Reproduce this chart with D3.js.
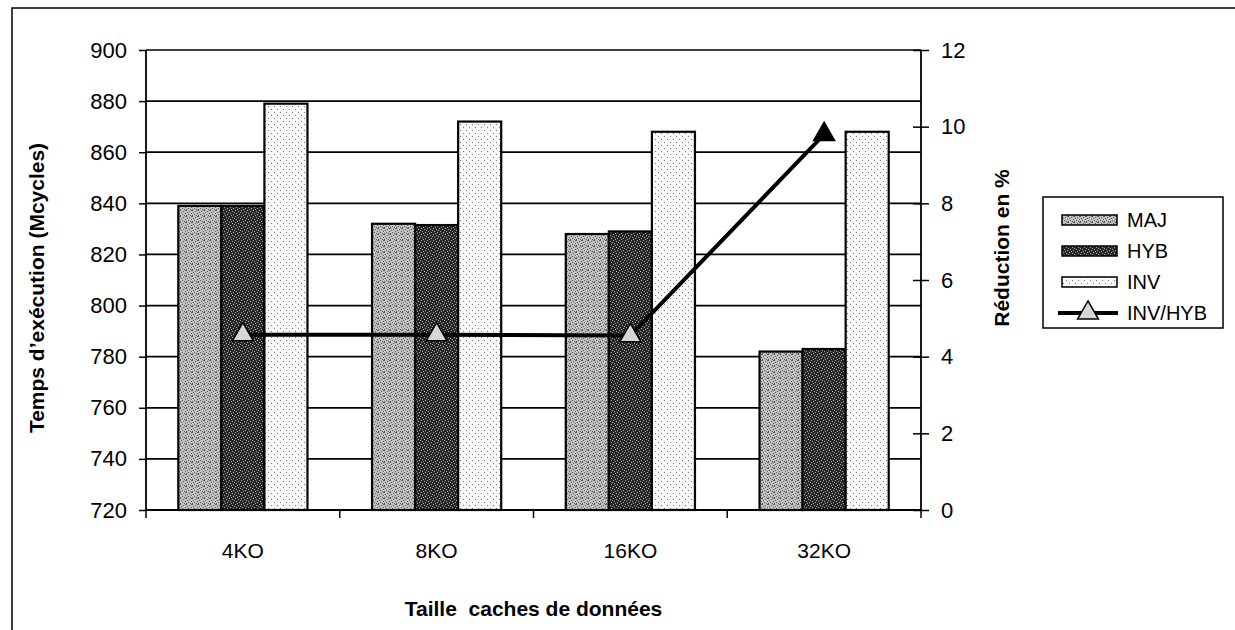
<!DOCTYPE html>
<html>
<head>
<meta charset="utf-8">
<script src="https://cdn.jsdelivr.net/npm/d3@7"></script>
<style>
  html, body { margin: 0; padding: 0; background: #fff; }
  svg { display: block; font-family: "Liberation Sans", Arial, Helvetica, sans-serif; }
</style>
</head>
<body>
<svg id="chart" width="1235" height="630"></svg>
<script>
// Execution time (Mcycles) per data-cache size, three write policies,
// plus the INV/HYB reduction in percent on the secondary axis.
const categories = ["4KO", "8KO", "16KO", "32KO"];
const seriesNames = ["MAJ", "HYB", "INV"];
const majValues = [839, 832, 828, 782];
const hybValues = [839, 831.5, 829, 783];
const invValues = [879, 872, 868, 868];
const reductionValues = [4.57, 4.57, 4.55, 9.8];
const leftTicks = [720, 740, 760, 780, 800, 820, 840, 860, 880, 900];
const rightTicks = [0, 2, 4, 6, 8, 10, 12];
const lineName = "INV/HYB";

const svg = d3.select("#chart");
const W = 1235, H = 630;
const plot = { left: 146, right: 921, top: 50, bottom: 510 };

// halftone-style fills for the three bar series
const defs = svg.append("defs");
function halftone(id, base, ink, dots, size) {
  const p = defs.append("pattern").attr("id", id)
    .attr("patternUnits", "userSpaceOnUse").attr("width", size).attr("height", size);
  p.append("rect").attr("width", size).attr("height", size).attr("fill", base);
  dots.forEach(([dx, dy]) => p.append("rect").attr("x", dx).attr("y", dy)
    .attr("width", 1).attr("height", 1).attr("fill", ink));
}
halftone("fillMAJ", "#c0c0c0", "#5e5e5e",
  [[0,0],[3,1],[1,2],[5,3],[2,4],[4,5],[0,5],[5,0]], 6);
halftone("fillHYB", "#262626", "#a8a8a8",
  [[1,0],[4,1],[2,3],[5,4],[0,2],[3,5]], 6);
halftone("fillINV", "#f7f7f7", "#777",
  [[1,1],[4,4]], 6);

const fills = { MAJ: "url(#fillMAJ)", HYB: "url(#fillHYB)", INV: "url(#fillINV)" };
const valuesBySeries = { MAJ: majValues, HYB: hybValues, INV: invValues };

// scales
const x0 = d3.scaleBand().domain(categories).range([plot.left, plot.right]).paddingInner(0).paddingOuter(0);
const x1 = d3.scaleBand().domain(seriesNames).range([0, x0.bandwidth()]).paddingInner(0).paddingOuter(0.75);
const yL = d3.scaleLinear().domain([720, 900]).range([plot.bottom, plot.top]);
const yR = d3.scaleLinear().domain([0, 12]).range([plot.bottom, plot.top]);

// outer frame (top and left edges)
svg.append("path").attr("d", `M12,${H} L12,8 L${W},8`)
  .attr("fill", "none").attr("stroke", "#000").attr("stroke-width", 1.5);

// horizontal gridlines
svg.append("g").selectAll("line").data(leftTicks).join("line")
  .attr("x1", plot.left).attr("x2", plot.right)
  .attr("y1", d => yL(d)).attr("y2", d => yL(d))
  .attr("stroke", "#000").attr("stroke-width", 1.7);

// bars
const barRows = [];
categories.forEach((c, i) => seriesNames.forEach(s =>
  barRows.push({ cat: c, series: s, value: valuesBySeries[s][i] })));
svg.append("g").selectAll("rect").data(barRows).join("rect")
  .attr("x", d => x0(d.cat) + x1(d.series))
  .attr("y", d => yL(d.value))
  .attr("width", x1.bandwidth())
  .attr("height", d => yL(720) - yL(d.value))
  .attr("fill", d => fills[d.series])
  .attr("stroke", "#000").attr("stroke-width", 2.2);

// left axis
const gL = svg.append("g").attr("transform", `translate(${plot.left},0)`)
  .call(d3.axisLeft(yL).tickValues(leftTicks).tickSize(7).tickPadding(12));
gL.select(".domain").attr("stroke-width", 1.8).attr("d", `M0,${plot.top}V${plot.bottom}`);
gL.selectAll(".tick line").attr("stroke-width", 1.5);
gL.selectAll(".tick text").attr("font-size", 22).attr("fill", "#000");

// right axis with ticks crossing the line
const gR = svg.append("g").attr("transform", `translate(${plot.right},0)`)
  .call(d3.axisRight(yR).tickValues(rightTicks).tickSize(8).tickPadding(12));
gR.select(".domain").attr("stroke-width", 1.8).attr("d", `M0,${plot.top}V${plot.bottom}`);
gR.selectAll(".tick line").attr("x1", -8).attr("x2", 8).attr("stroke-width", 1.5);
gR.selectAll(".tick text").attr("font-size", 22).attr("fill", "#000");

// category axis: baseline, boundary ticks, centred labels
const gX = svg.append("g").attr("transform", `translate(0,${plot.bottom})`)
  .call(d3.axisBottom(x0).tickSize(0).tickPadding(33));
gX.select(".domain").attr("stroke-width", 1.8).attr("d", `M${plot.left},0H${plot.right}`);
gX.selectAll(".tick text").attr("font-size", 21).attr("fill", "#000");
const bounds = categories.map(c => x0(c)).concat([x0.range()[1]]);
gX.append("g").selectAll("line").data(bounds).join("line")
  .attr("x1", d => d).attr("x2", d => d).attr("y1", 0).attr("y2", 8)
  .attr("stroke", "#000").attr("stroke-width", 1.5);

// reduction line with triangle markers
const pts = categories.map((c, i) => ({ x: x0(c) + x0.bandwidth() / 2, y: yR(reductionValues[i]), i }));
svg.append("path").datum(pts)
  .attr("d", d3.line().x(d => d.x).y(d => d.y))
  .attr("fill", "none").attr("stroke", "#000").attr("stroke-width", 4);
const tri = d3.symbol().type(d3.symbolTriangle).size(190);
const markerFill = ["#d6d6d6", "#d6d6d6", "#d6d6d6", "#000"];
svg.append("g").selectAll("path").data(pts).join("path")
  .attr("transform", d => `translate(${d.x},${d.y})`)
  .attr("d", tri)
  .attr("fill", d => markerFill[d.i]).attr("stroke", "#000").attr("stroke-width", 1.5);

// axis titles
svg.append("text").attr("transform", `translate(44,${(plot.top + plot.bottom) / 2 + 8}) rotate(-90)`)
  .attr("text-anchor", "middle").attr("font-size", 21).attr("font-weight", "bold")
  .text("Temps d’exécution (Mcycles)");
svg.append("text").attr("transform", `translate(1009,248) rotate(-90)`)
  .attr("text-anchor", "middle").attr("font-size", 21).attr("font-weight", "bold")
  .text("Réduction en %");
svg.append("text").attr("x", (plot.left + plot.right) / 2).attr("y", 616)
  .attr("text-anchor", "middle").attr("font-size", 21).attr("font-weight", "bold")
  .attr("xml:space", "preserve").style("white-space", "pre")
  .text("Taille  caches de données");

// legend
const lg = svg.append("g");
lg.append("rect").attr("x", 1043).attr("y", 197).attr("width", 180).attr("height", 131)
  .attr("fill", "#fff").attr("stroke", "#000").attr("stroke-width", 1.5);
const legendRows = seriesNames.concat([lineName]);
const rowY = d3.scalePoint().domain(legendRows).range([220, 313]);
legendRows.forEach(name => {
  const yy = rowY(name);
  if (name === lineName) {
    lg.append("line").attr("x1", 1058).attr("x2", 1118).attr("y1", yy).attr("y2", yy)
      .attr("stroke", "#000").attr("stroke-width", 4);
    lg.append("path").attr("transform", `translate(1088,${yy})`).attr("d", tri)
      .attr("fill", "#d6d6d6").attr("stroke", "#000").attr("stroke-width", 1.5);
  } else {
    lg.append("rect").attr("x", 1062).attr("y", yy - 5).attr("width", 55).attr("height", 10)
      .attr("fill", fills[name]).attr("stroke", "#000").attr("stroke-width", 1.5);
  }
  lg.append("text").attr("x", 1127).attr("y", yy + 7).attr("font-size", 20).text(name);
});
</script>
</body>
</html>
